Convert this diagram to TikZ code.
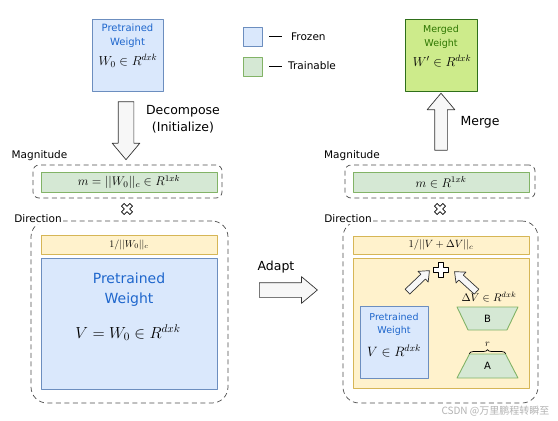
\RequirePackage{fix-cm}
\documentclass[tikz,border=0pt]{standalone}
\usepackage{fontspec}
\setmainfont{DejaVu Sans}
\newfontfamily\cjkfont{Noto Sans CJK SC}
\usetikzlibrary{shapes.arrows,shapes.geometric,decorations.pathreplacing,calc}

\definecolor{frozenfill}{HTML}{DAE8FC}
\definecolor{frozenedge}{HTML}{6C8EBF}
\definecolor{trainfill}{HTML}{D5E8D4}
\definecolor{trainedge}{HTML}{82B366}
\definecolor{normfill}{HTML}{FFF2CC}
\definecolor{normedge}{HTML}{D6B656}
\definecolor{mergefill}{HTML}{CDEB8B}
\definecolor{mergeedge}{HTML}{2F6F1A}
\definecolor{weighttext}{HTML}{1E66CC}
\definecolor{mergetext}{HTML}{2D7600}

\begin{document}
\begin{tikzpicture}
		[x=1pt,y=-1pt,line join=round,
		box/.style={inner sep=0pt,line width=0.9pt},
		frozen/.style={box,draw=frozenedge,fill=frozenfill},
		trainable/.style={box,draw=trainedge,fill=trainfill},
		normbar/.style={box,draw=normedge,fill=normfill},
		merged/.style={box,draw=mergeedge,fill=mergefill},
		group/.style={draw=black!70,line width=0.7pt,dash pattern=on 5pt off 3.5pt,inner sep=0pt},
		tag/.style={fill=white,inner sep=1pt,font=\fontsize{10.5}{12}\selectfont},
		caption/.style={font=\fontsize{12.5}{17}\selectfont,align=center},
		wtext/.style={text=weighttext,align=center},
		bigarrow/.style={single arrow,draw=black!80,fill=black!3,line width=0.7pt,
			single arrow tip angle=80,inner sep=0pt,sloped,allow upside down},
		decomparrow/.style={bigarrow,inner ysep=7.5pt,single arrow head extend=6pt},
		mergearrow/.style={bigarrow,inner ysep=6pt,single arrow head extend=7.5pt},
		adaptarrow/.style={bigarrow,inner ysep=7pt,single arrow head extend=6pt},
		smallarrow/.style={bigarrow,inner ysep=3pt,single arrow head extend=4pt},
		pics/plusmark/.style={code={
			\draw[line width=0.7pt,fill=white] (2.3,2.3) -- (7.5,2.3) -- (7.5,-2.3) -- (2.3,-2.3)
			-- (2.3,-7.5) -- (-2.3,-7.5) -- (-2.3,-2.3) -- (-7.5,-2.3) -- (-7.5,2.3)
			-- (-2.3,2.3) -- (-2.3,7.5) -- (2.3,7.5) -- cycle;}}]
		\useasboundingbox (0,0) rectangle (558,421);
		% legend
		\node[frozen,minimum width=19pt,minimum height=19pt] (keyF) at (252.5,36.5) {};
		\node[trainable,minimum width=19pt,minimum height=19pt] (keyT) at (252.5,66.5) {};
		\node[tag,anchor=west,inner sep=0pt] (txtF) at (291,37) {Frozen};
		\node[tag,anchor=west,inner sep=0pt] (txtT) at (288,66) {Trainable};
		\draw[line width=1.3pt] ($(keyF.east)+(7,0)$) -- ++(13,0);
		\draw[line width=1.3pt] ($(keyT.east)+(7,0)$) -- ++(13,0);
		% left column
		\node[frozen,minimum width=71pt,minimum height=72pt] (w0) at (127.5,55) {};
		\node[wtext,font=\fontsize{10}{14}\selectfont] (w0name) at (127.5,36) {Pretrained\\Weight};
		\node[font=\fontsize{13}{14}\selectfont] (w0dim) at (128,61) {$W_0 \in R^{dxk}$};
		\node[caption] (decomp) at (183,119) {Decompose\\(Initialize)};
		\node[group,rounded corners=6pt,minimum width=189pt,minimum height=33pt] (magL) at (127.5,181.5) {};
		\node[tag] (magLtag) at (39.5,156) {Magnitude};
		\node[trainable,minimum width=176pt,minimum height=20pt,font=\fontsize{12.5}{13}\selectfont]
			(mL) at (129,182) {$m = ||W_0||_c \in R^{1xk}$};
		\pic[rotate=45,scale=0.8] (mulL) at (127,209) {plusmark};
		\node[group,rounded corners=16pt,minimum width=197pt,minimum height=182pt] (dirL) at (129.5,312) {};
		\node[tag] (dirLtag) at (38,219) {Direction};
		\node[normbar,minimum width=176pt,minimum height=19pt,font=\fontsize{10}{11}\selectfont]
			(nL) at (129,244.5) {$1/||W_0||_c$};
		\node[frozen,minimum width=176pt,minimum height=131pt] (vL) at (129,323.5) {};
		\node[wtext,font=\fontsize{14}{20}\selectfont] (vLname) at (129,290) {Pretrained\\Weight};
		\node[font=\fontsize{16}{18}\selectfont] (vLdim) at (128,333) {$V = W_0 \in R^{dxk}$};
		\node[caption] (adapt) at (276,267) {Adapt};
		% right column
		\node[merged,minimum width=72pt,minimum height=72pt] (wm) at (441,55) {};
		\node[align=center,text=mergetext,font=\fontsize{9.5}{14}\selectfont] (wmname) at (441,37) {Merged\\Weight};
		\node[font=\fontsize{13}{14}\selectfont] (wmdim) at (442,61) {$W' \in R^{dxk}$};
		\node[caption,anchor=west] (merge) at (457,122) {Merge};
		\node[group,rounded corners=6pt,minimum width=190pt,minimum height=33pt] (magR) at (440,181.5) {};
		\node[tag] (magRtag) at (352,156) {Magnitude};
		\node[trainable,minimum width=176pt,minimum height=20pt,font=\fontsize{12.5}{13}\selectfont]
			(mR) at (441,182) {$m \in R^{1xk}$};
		\pic[rotate=45,scale=0.8] (mulR) at (440,209) {plusmark};
		\node[group,rounded corners=16pt,minimum width=195pt,minimum height=182pt] (dirR) at (440.5,312) {};
		\node[tag] (dirRtag) at (348,219) {Direction};
		\node[normbar,minimum width=176pt,minimum height=18pt,font=\fontsize{10.5}{11}\selectfont]
			(nR) at (441,245) {$1/||V + \Delta V||_c$};
		\node[normbar,minimum width=176pt,minimum height=130pt] (vR) at (441,323) {};
		\pic (sum) at (441,270) {plusmark};
		\node[frozen,minimum width=68pt,minimum height=72pt] (v0) at (394,342) {};
		\node[wtext,font=\fontsize{9.5}{13}\selectfont] (v0name) at (394,324.5) {Pretrained\\Weight};
		\node[font=\fontsize{13.5}{14}\selectfont] (v0dim) at (394,351) {$V \in R^{dxk}$};
		\node[font=\fontsize{11}{12}\selectfont] (dV) at (489,297) {$\Delta V \in R^{dxk}$};
		\node[trapezium,trainable,trapezium stretches=true,shape border rotate=180,
			trapezium left angle=75,trapezium right angle=75,minimum width=61pt,minimum height=23pt]
			(B) at (487.5,318.5) {$\mathrm{B}$};
		\node[trapezium,trainable,trapezium stretches=true,
			trapezium left angle=72,trapezium right angle=72,minimum width=61pt,minimum height=24pt]
			(A) at (487.5,366) {$\mathrm{A}$};
		\draw[decorate,decoration={brace,amplitude=4pt},line width=0.7pt]
			(A.top left corner) -- (A.top right corner) node[midway,above=3pt] (rank) {$r$};
		\node[text=black!30,font=\cjkfont\fontsize{10}{12}\selectfont,anchor=west] (mark) at (438,411) {CSDN @万里鹏程转瞬至};
		% block arrows
		\coordinate (decompFrom) at (126,97);
		\coordinate (decompTo) at (126,155);
		\coordinate (mergeFrom) at (441,154);
		\coordinate (mergeTo) at (441,97);
		\coordinate (adaptFrom) at (255,290);
		\coordinate (adaptTo) at (313,290);
		\coordinate (leftFrom) at (406,293);
		\coordinate (leftTo) at (428,272);
		\coordinate (rightFrom) at (478,293);
		\coordinate (rightTo) at (456,273);
		\foreach \from/\to/\kind in {decompFrom/decompTo/decomparrow, mergeFrom/mergeTo/mergearrow,
			adaptFrom/adaptTo/adaptarrow, leftFrom/leftTo/smallarrow, rightFrom/rightTo/smallarrow}
		{
			\path let \p1=($(\to)-(\from)$), \n1={veclen(\x1,\y1)} in
				(\from) -- node[\kind,minimum height=\n1] {} (\to);
		}
		\end{tikzpicture}
\end{document}
